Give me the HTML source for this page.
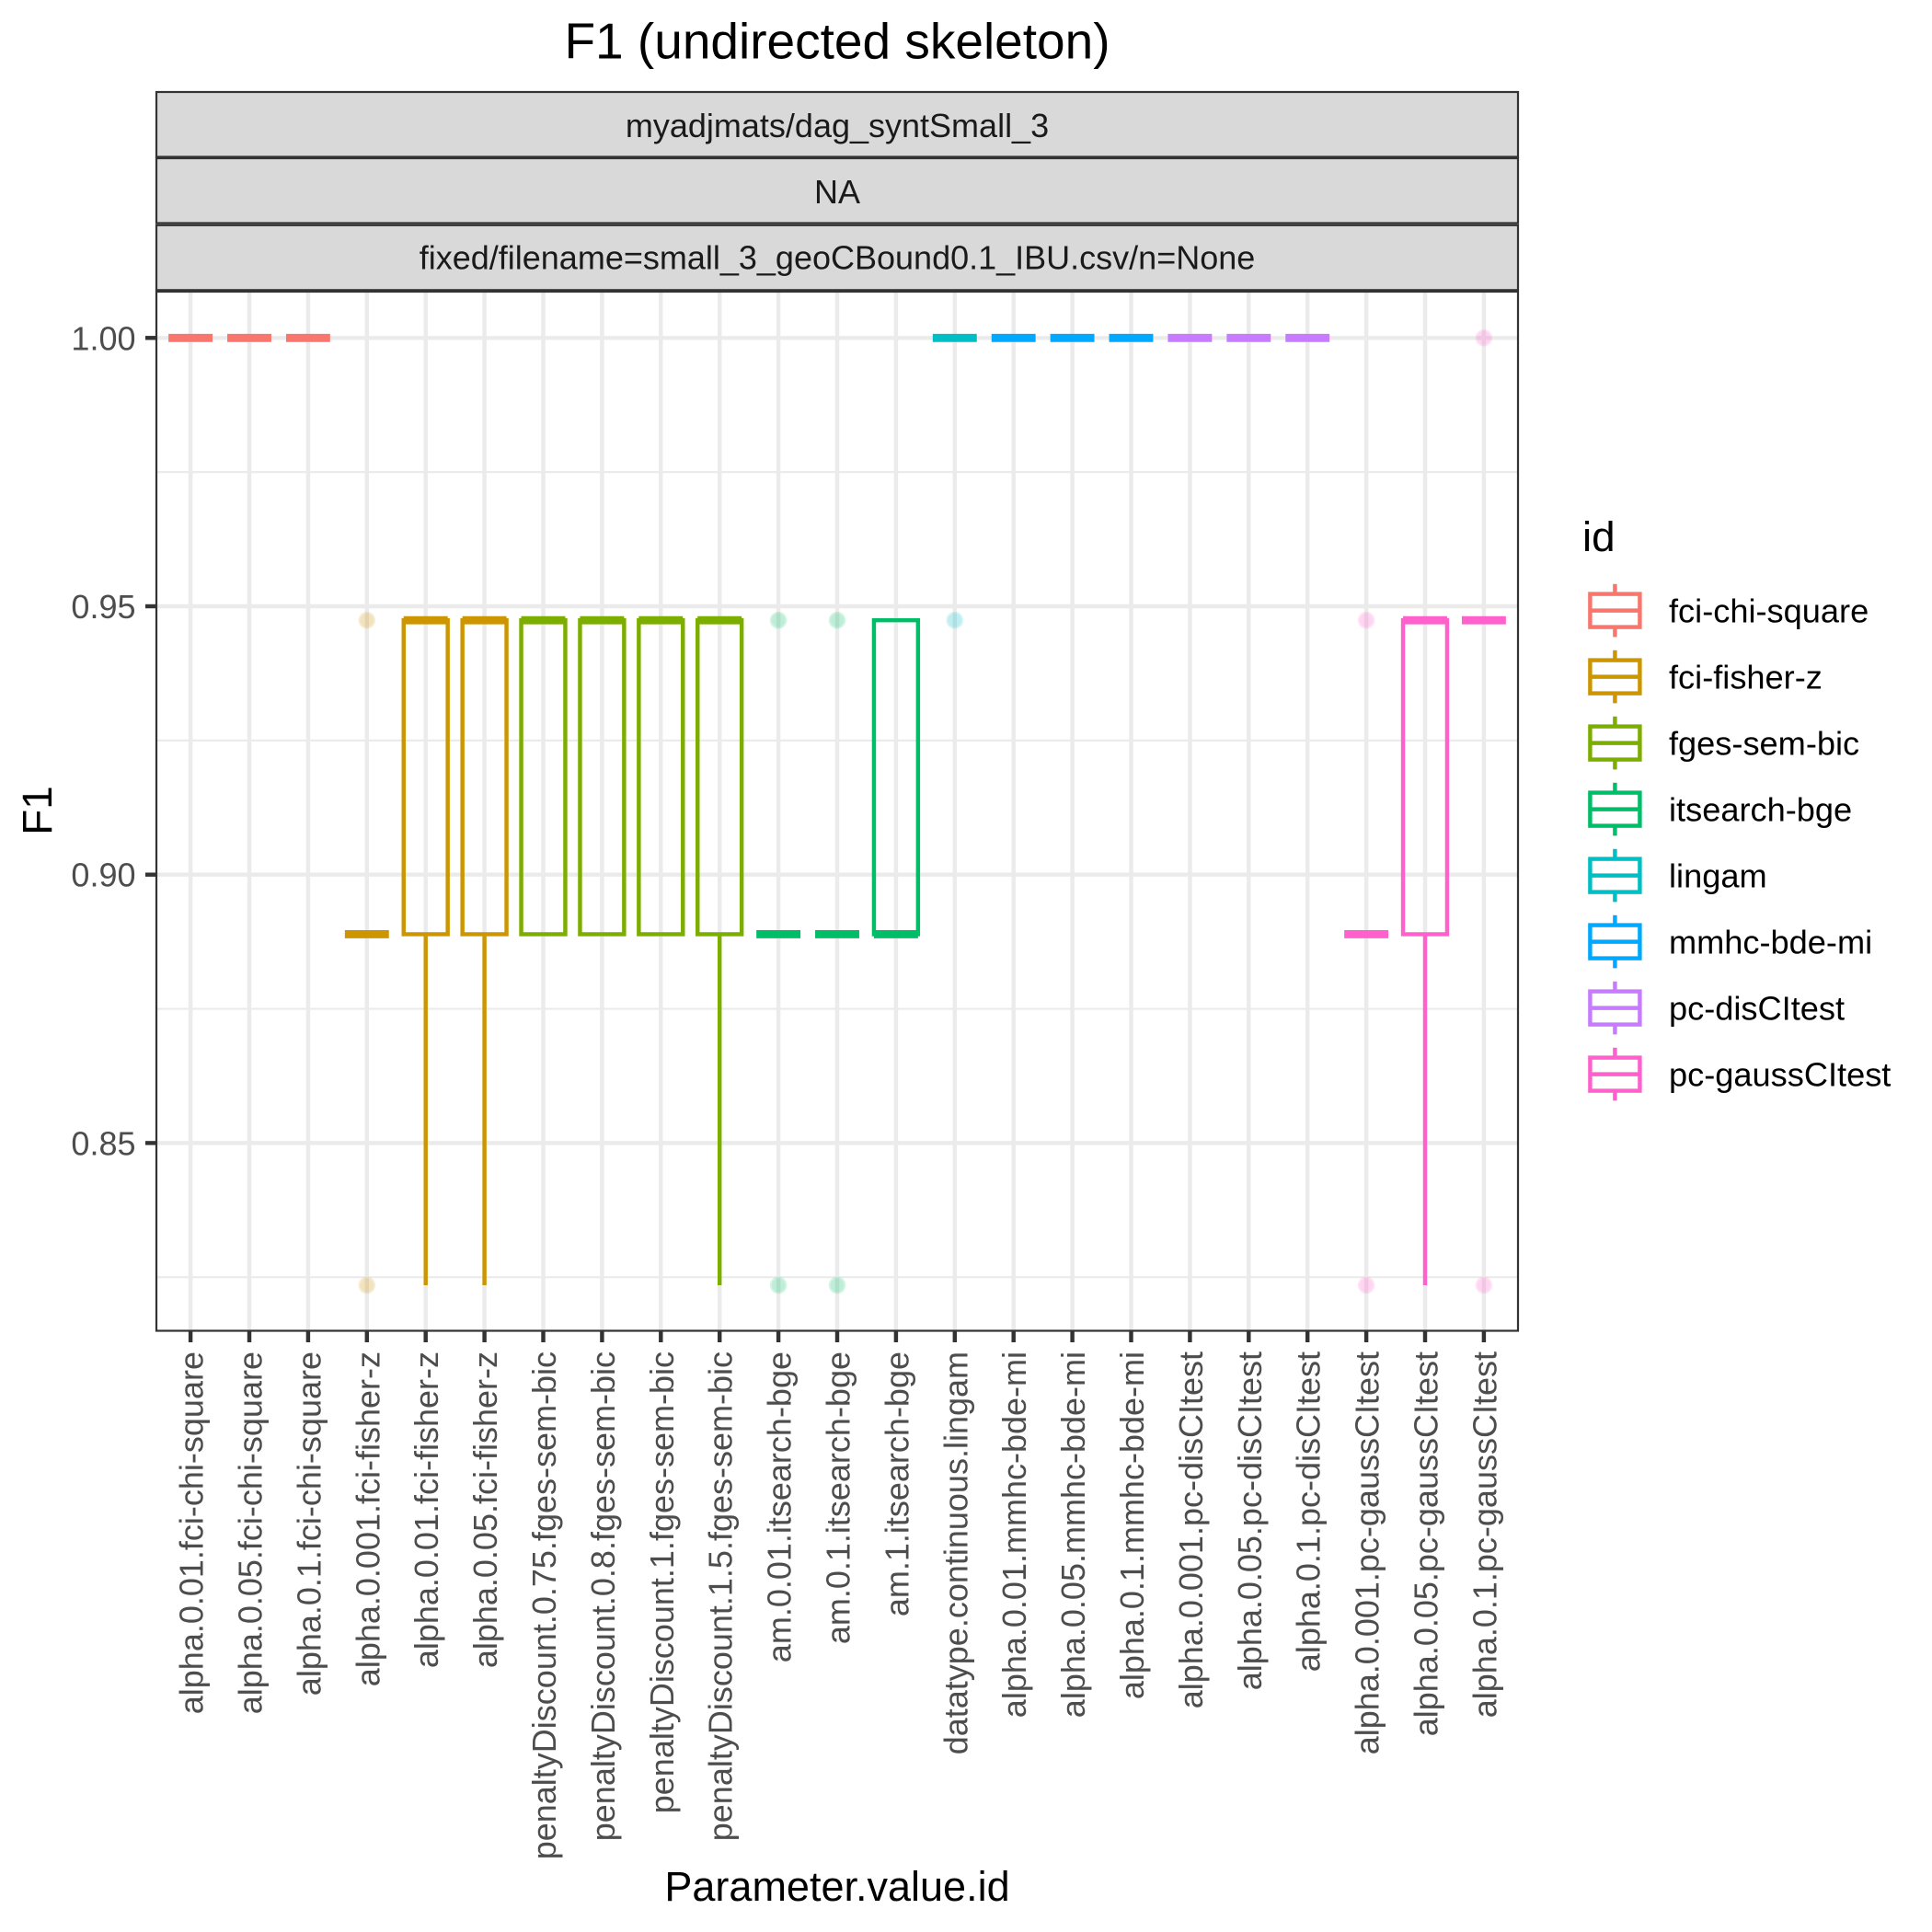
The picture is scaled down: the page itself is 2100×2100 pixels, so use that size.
<!DOCTYPE html>
<html>
<head>
<meta charset="utf-8">
<title>F1 (undirected skeleton)</title>
<style>
html,body{margin:0;padding:0;background:#fff;width:2100px;height:2100px;overflow:hidden}
svg{display:block;font-family:"Liberation Sans",Arial,sans-serif}
</style>
</head>
<body>
<svg id="chart" xmlns="http://www.w3.org/2000/svg" width="2100" height="2100" viewBox="0 0 2100 2100">
  <rect x="0" y="0" width="2100" height="2100" fill="#ffffff"/>
  <text x="910" y="63.5" font-size="55" text-anchor="middle" fill="#000">F1 (undirected skeleton)</text>
  <g>
    <rect x="170" y="100" width="1480" height="70.5" fill="#d9d9d9" stroke="#333" stroke-width="2.2"/>
    <rect x="170" y="172" width="1480" height="70.5" fill="#d9d9d9" stroke="#333" stroke-width="2.2"/>
    <rect x="170" y="244.8" width="1480" height="70.5" fill="#d9d9d9" stroke="#333" stroke-width="2.2"/>
    <text x="910" y="149" font-size="36" text-anchor="middle" fill="#1a1a1a">myadjmats/dag_syntSmall_3</text>
    <text x="910" y="221" font-size="36" text-anchor="middle" fill="#1a1a1a">NA</text>
    <text x="910" y="292.5" font-size="36" text-anchor="middle" fill="#1a1a1a">fixed/filename=small_3_geoCBound0.1_IBU.csv/n=None</text>
  </g>
  <rect x="170" y="317" width="1480" height="1129.5" fill="#ffffff"/>
  <g id="grid"></g>
  <g id="marks"></g>
  <rect x="170" y="317" width="1480" height="1129.5" fill="none" stroke="#333" stroke-width="2.2"/>
  <g id="y-axis"></g>
  <g id="x-axis"></g>
  <text x="910" y="2066" font-size="45" text-anchor="middle" fill="#000">Parameter.value.id</text>
  <text transform="translate(56,881) rotate(-90)" x="0" y="0" font-size="45.8" text-anchor="middle" fill="#000">F1</text>
  <g id="legend">
    <text x="1720" y="599" font-size="45.8" fill="#000">id</text>
  </g>
</svg>
<script>
const categories = [
  "alpha.0.01.fci-chi-square","alpha.0.05.fci-chi-square","alpha.0.1.fci-chi-square",
  "alpha.0.001.fci-fisher-z","alpha.0.01.fci-fisher-z","alpha.0.05.fci-fisher-z",
  "penaltyDiscount.0.75.fges-sem-bic","penaltyDiscount.0.8.fges-sem-bic","penaltyDiscount.1.fges-sem-bic","penaltyDiscount.1.5.fges-sem-bic",
  "am.0.01.itsearch-bge","am.0.1.itsearch-bge","am.1.itsearch-bge",
  "datatype.continuous.lingam",
  "alpha.0.01.mmhc-bde-mi","alpha.0.05.mmhc-bde-mi","alpha.0.1.mmhc-bde-mi",
  "alpha.0.001.pc-disCItest","alpha.0.05.pc-disCItest","alpha.0.1.pc-disCItest",
  "alpha.0.001.pc-gaussCItest","alpha.0.05.pc-gaussCItest","alpha.0.1.pc-gaussCItest"
];
const groupOf = [0,0,0,1,1,1,2,2,2,2,3,3,3,4,5,5,5,6,6,6,7,7,7];
const whiskerLow = [1,1,1,0.8889,0.8235,0.8235,0.8889,0.8889,0.8889,0.8235,0.8889,0.8889,0.8889,1,1,1,1,1,1,1,0.8889,0.8235,0.9474];
const q1Values = [1,1,1,0.8889,0.8889,0.8889,0.8889,0.8889,0.8889,0.8889,0.8889,0.8889,0.8889,1,1,1,1,1,1,1,0.8889,0.8889,0.9474];
const medians = [1,1,1,0.8889,0.9474,0.9474,0.9474,0.9474,0.9474,0.9474,0.8889,0.8889,0.8889,1,1,1,1,1,1,1,0.8889,0.9474,0.9474];
const q3Values = [1,1,1,0.8889,0.9474,0.9474,0.9474,0.9474,0.9474,0.9474,0.8889,0.8889,0.9474,1,1,1,1,1,1,1,0.8889,0.9474,0.9474];
const whiskerHigh = [1,1,1,0.8889,0.9474,0.9474,0.9474,0.9474,0.9474,0.9474,0.8889,0.8889,0.9474,1,1,1,1,1,1,1,0.8889,0.9474,0.9474];
const outliers = [[],[],[],[0.9474,0.8235],[],[],[],[],[],[],[0.9474,0.8235],[0.9474,0.8235],[],[0.9474],[],[],[],[],[],[],[0.9474,0.8235],[],[1,0.8235]];
const legendLabels = ["fci-chi-square","fci-fisher-z","fges-sem-bic","itsearch-bge","lingam","mmhc-bde-mi","pc-disCItest","pc-gaussCItest"];
const groupColors = ["#F8766D","#CD9600","#7CAE00","#00BE67","#00BFC4","#00A9FF","#C77CFF","#FF61CC"];
const yMajorTicks = [0.85,0.90,0.95,1.00];
const yMajorLabels = ["0.85","0.90","0.95","1.00"];
const yMinorTicks = [0.825,0.875,0.925,0.975];

const SVGNS = "http://www.w3.org/2000/svg";
function make(tag, attrs, parent) {
  const e = document.createElementNS(SVGNS, tag);
  for (const k in attrs) e.setAttribute(k, attrs[k]);
  parent.appendChild(e);
  return e;
}
const panelLeft = 169, panelRight = 1651, panelTop = 316, panelBottom = 1447;
const firstCatX = 207.1, catStep = 63.9;
function xScale(i) { return firstCatX + i * catStep; }
function yScale(v) { return 367.3 + (1 - v) * 5834; }

const LW = 4.44, BOXW = 47.9;
const grid = document.getElementById("grid");
const marks = document.getElementById("marks");
const yAxis = document.getElementById("y-axis");
const xAxis = document.getElementById("x-axis");
const legend = document.getElementById("legend");

yMinorTicks.forEach(function (v) {
  const l = make("line", {x1: panelLeft, x2: panelRight, y1: yScale(v), y2: yScale(v), stroke: "#ebebeb", "stroke-width": 2.2}, grid);
  
  
});
yMajorTicks.forEach(function (v, i) {
  const l = make("line", {x1: panelLeft, x2: panelRight, y1: yScale(v), y2: yScale(v), stroke: "#ebebeb", "stroke-width": LW}, grid);
  
  
  const t = make("line", {x1: 158, x2: 170, y1: yScale(v), y2: yScale(v), stroke: "#333", "stroke-width": LW}, yAxis);
  
  
  const lab = make("text", {x: 147.5, y: yScale(v) + 13, "font-size": 36, "text-anchor": "end", fill: "#4d4d4d"}, yAxis);
  
  
  lab.textContent = yMajorLabels[i];
});

categories.forEach(function (name, i) {
  const x = xScale(i);
  const g = make("line", {x1: x, x2: x, y1: panelTop, y2: panelBottom, stroke: "#ebebeb", "stroke-width": LW}, grid);
  
  
  const t = make("line", {x1: x, x2: x, y1: 1446, y2: 1459, stroke: "#333", "stroke-width": LW}, xAxis);
  
  
  const lab = make("text", {transform: "translate(" + (x + 13.5) + ",1469) rotate(-90)", "font-size": 36, "text-anchor": "end", fill: "#4d4d4d"}, xAxis);
  
  
  lab.textContent = name;

  const color = groupColors[groupOf[i]];
  const left = x - BOXW / 2, right = x + BOXW / 2;
  outliers[i].forEach(function (v) {
    const outer = make("circle", {cx: x, cy: yScale(v), r: 9.3, fill: color, "fill-opacity": 0.17}, marks);
    
    
    const inner = make("circle", {cx: x, cy: yScale(v), r: 7.4, fill: color, "fill-opacity": 0.1}, marks);
    
    
  });
  if (whiskerLow[i] < q1Values[i]) {
    const w = make("line", {x1: x, x2: x, y1: yScale(q1Values[i]), y2: yScale(whiskerLow[i]), stroke: color, "stroke-width": LW}, marks);
    
    
  }
  if (whiskerHigh[i] > q3Values[i]) {
    const w = make("line", {x1: x, x2: x, y1: yScale(q3Values[i]), y2: yScale(whiskerHigh[i]), stroke: color, "stroke-width": LW}, marks);
    
    
  }
  if (q3Values[i] > q1Values[i]) {
    const b = make("rect", {x: left, y: yScale(q3Values[i]), width: BOXW, height: yScale(q1Values[i]) - yScale(q3Values[i]), fill: "none", stroke: color, "stroke-width": LW}, marks);
    
    
  }
  const m = make("line", {x1: left, x2: right, y1: yScale(medians[i]), y2: yScale(medians[i]), stroke: color, "stroke-width": 8.88}, marks);
  
  
});

legendLabels.forEach(function (label, i) {
  const cy = 663.6 + i * 72;
  const cx = 1755.4;
  const color = groupColors[i];
  const entry = make("g", {}, legend);
  
  
  const w1 = make("line", {x1: cx, x2: cx, y1: cy - 28.8, y2: cy - 18, stroke: color, "stroke-width": LW}, entry);
  
  
  const w2 = make("line", {x1: cx, x2: cx, y1: cy + 18, y2: cy + 28.8, stroke: color, "stroke-width": LW}, entry);
  
  
  const b = make("rect", {x: cx - 27, y: cy - 18, width: 54, height: 36, fill: "none", stroke: color, "stroke-width": LW}, entry);
  
  
  const md = make("line", {x1: cx - 27, x2: cx + 27, y1: cy, y2: cy, stroke: color, "stroke-width": LW}, entry);
  
  
  const t = make("text", {x: 1814, y: cy + 13, "font-size": 36.2, fill: "#000"}, entry);
  
  
  t.textContent = label;
});
</script>
</body>
</html>
